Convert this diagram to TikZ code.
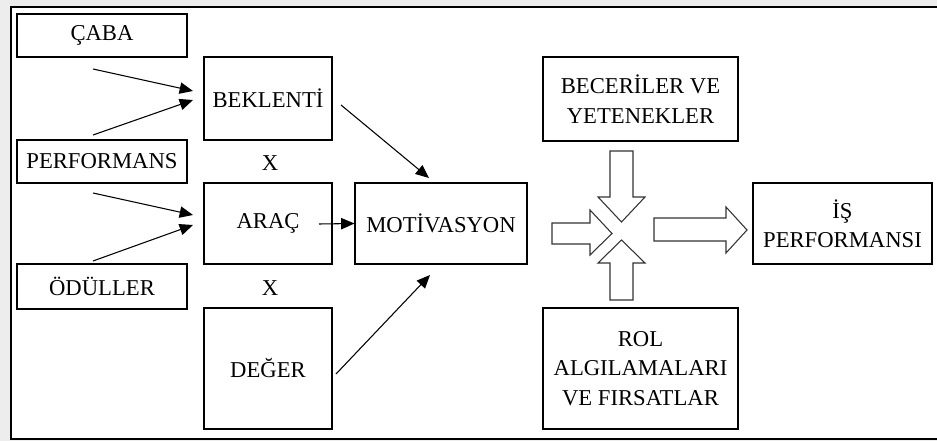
\documentclass[tikz,border=0pt]{standalone}
\usepackage{fontspec}
\setmainfont{Liberation Serif}
\usetikzlibrary{arrows.meta}

\begin{document}
\begin{tikzpicture}[x=0.75pt,y=-0.75pt,
		box/.style = {draw, thick, rectangle, inner sep=0pt, align=center, font=\fontsize{17}{22}\selectfont},
		thin/.style = {-{Triangle[length=10pt,width=8.5pt]}, line width=0.8pt},
		blockarrow/.style = {draw=black!80, line width=0.8pt, fill=white}]
				\useasboundingbox (0,0) rectangle (937,441);
				\fill[black!7] (0,0) rectangle (937,441);
				\draw[thick, fill=white] (11,7) rectangle (960,439);
				\begin{scope}[every node/.style={box}]
					\node[minimum width=127.5pt, minimum height=32.25pt] (caba) at (102,35.5) {ÇABA};
					\node[minimum width=127.5pt, minimum height=32.25pt] (perf) at (102,161.5) {PERFORMANS};
					\node[minimum width=127.5pt, minimum height=33.75pt] (odul) at (102,286.5) {ÖDÜLLER};
					\node[minimum width=96pt, minimum height=62.25pt] (bekl) at (268,98.5) {BEKLENTİ};
					\node[minimum width=96pt, minimum height=60.75pt] (arac) at (268,223.5) {ARAÇ};
					\node[minimum width=96pt, minimum height=90.75pt] (deger) at (268,368.5) {DEĞER};
					\node[minimum width=129pt, minimum height=60.75pt] (motiv) at (441,223.5) {MOTİVASYON};
					\node[minimum width=146.25pt, minimum height=63pt] (becer) at (640.5,99) {BECERİLER VE\\YETENEKLER};
					\node[minimum width=146.25pt, minimum height=90.75pt] (rol) at (640.5,368.5) {ROL\\ALGILAMALARI\\VE FIRSATLAR};
					\node[minimum width=134.25pt, minimum height=60.75pt] (isperf) at (842.5,223.5) {İŞ\\PERFORMANSI};
				\end{scope}
				\node[font=\fontsize{17}{22}\selectfont] (x1) at (270,163) {X};
				\node[font=\fontsize{17}{22}\selectfont] (x2) at (270,288) {X};
				% free ends of the thin arrows
				\coordinate (s1) at (93,69);   \coordinate (e1) at (193,91);
				\coordinate (s2) at (93,135);  \coordinate (e2) at (193,100);
				\coordinate (s3) at (93,193);  \coordinate (e3) at (193,215);
				\coordinate (s4) at (93,261);  \coordinate (e4) at (193,225);
				\coordinate (s5) at (319,224);
				\coordinate (s6) at (341,105); \coordinate (e6) at (429,178);
				\coordinate (s7) at (336,374); \coordinate (e7) at (430,275);
				\draw [thin] (s1) -- (e1);
				\draw [thin] (s2) -- (e2);
				\draw [thin] (s3) -- (e3);
				\draw [thin] (s4) -- (e4);
				\draw [thin] (s5) -- (motiv.west);
				\draw [thin] (s6) -- (e6);
				\draw [thin] (s7) -- (e7);
				% block arrows
				\draw [blockarrow] (610,151) -- (633,151) -- (633,197) -- (645,197) -- (621.5,222) -- (598,197) -- (610,197) -- cycle;
				\draw [blockarrow] (610,300) -- (633,300) -- (633,263) -- (645,263) -- (621.5,240) -- (598,263) -- (610,263) -- cycle;
				\draw [blockarrow] (552,223) -- (590,223) -- (590,210) -- (612,233.5) -- (590,255) -- (590,244) -- (552,244) -- cycle;
				\draw [blockarrow] (654,218) -- (726,218) -- (726,207) -- (747,230) -- (726,253) -- (726,241) -- (654,241) -- cycle;
			\end{tikzpicture}
\end{document}
